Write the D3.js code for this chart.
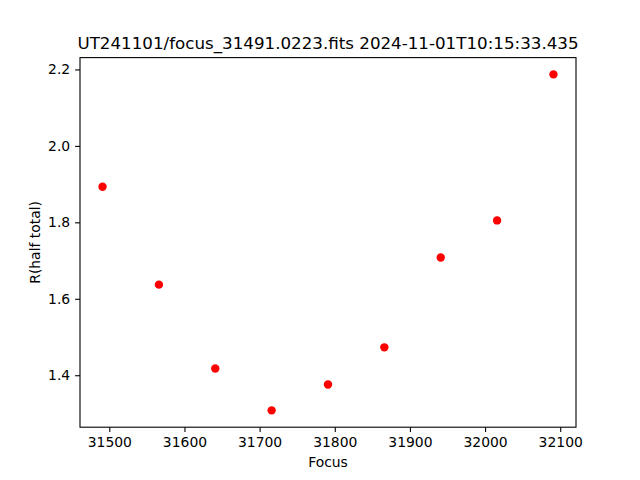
<!DOCTYPE html>
<html><head><meta charset="utf-8">
<script src="https://cdn.jsdelivr.net/npm/d3@7"></script>
<style>body{margin:0;background:#fff}svg{display:block}text{font-family:"DejaVu Sans",sans-serif;fill:#000}</style>
</head><body>
<script>
const focusValues = [31491, 31566, 31641, 31716, 31791, 31866, 31941, 32016, 32091];
const rValues = [1.893, 1.637, 1.4175, 1.308, 1.3756, 1.473, 1.708, 1.805, 2.187];
const xTicks = [31500, 31600, 31700, 31800, 31900, 32000, 32100];
const yTicks = [1.4, 1.6, 1.8, 2.0, 2.2];
const titleText = "UT241101/focus_31491.0223.fits 2024-11-01T10:15:33.435";

const W = 640, H = 480;
const L = 80, R = 576, T = 57.6, B = 427.2;
const svg = d3.select("body").append("svg").attr("width", W).attr("height", H);

const xe = d3.extent(focusValues), ye = d3.extent(rValues);
const xm = (xe[1]-xe[0])*0.05, ym = (ye[1]-ye[0])*0.05;
const x = d3.scaleLinear().domain([xe[0]-xm, xe[1]+xm]).range([L, R]);
const y = d3.scaleLinear().domain([ye[0]-ym, ye[1]+ym]).range([B, T]);

const xAxis = svg.append("g").attr("transform", `translate(0,${B})`)
  .call(d3.axisBottom(x).tickValues(xTicks).tickFormat(d3.format("d")).tickSize(4.9).tickPadding(4.9).tickSizeOuter(0));
const yAxis = svg.append("g").attr("transform", `translate(${L},0)`)
  .call(d3.axisLeft(y).tickValues(yTicks).tickFormat(d3.format(".1f")).tickSize(4.9).tickPadding(4.9).tickSizeOuter(0));
[xAxis, yAxis].forEach(g => {
  g.select(".domain").remove();
  g.selectAll(".tick line").attr("stroke", "#000").attr("stroke-width", 1.1);
  g.selectAll(".tick text").attr("font-size", "13.9px").attr("font-family", "DejaVu Sans").attr("fill", "#000");
});

svg.append("g").selectAll("circle").data(focusValues).join("circle")
  .attr("cx", (d) => x(d)).attr("cy", (d, i) => y(rValues[i])).attr("r", 4.2).attr("fill", "#ff0000");

svg.append("rect").attr("x", L).attr("y", T).attr("width", R-L).attr("height", B-T)
  .attr("fill", "none").attr("stroke", "#000").attr("stroke-width", 1.1);

svg.append("text").attr("x", (L+R)/2).attr("y", 49.3).attr("text-anchor", "middle")
  .attr("font-size", "16.7px").text(titleText);
svg.append("text").attr("x", (L+R)/2).attr("y", 467).attr("text-anchor", "middle")
  .attr("font-size", "13.9px").text("Focus");
svg.append("text").attr("transform", `translate(39.5,${(T+B)/2}) rotate(-90)`).attr("text-anchor", "middle")
  .attr("font-size", "13.9px").text("R(half total)");
</script>
</body></html>
